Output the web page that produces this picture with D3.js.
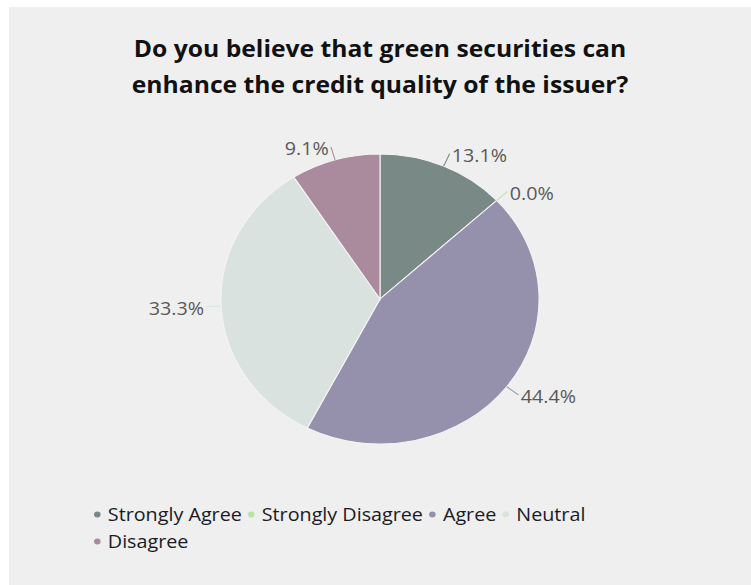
<!DOCTYPE html>
<html>
<head>
<meta charset="utf-8">
<script src="https://cdn.jsdelivr.net/npm/d3@7"></script>
<style>
  html, body { margin: 0; padding: 0; background: #ffffff; }
  svg { display: block; }
</style>
</head>
<body>
<div id="chart"></div>
<script>
// Survey answers, in drawing order (clockwise from 12 o'clock)
const categories = ["Strongly Agree", "Strongly Disagree", "Agree", "Neutral", "Disagree"];
const shares = [13.1, 0.0, 44.4, 33.3, 9.1];
const colors = ["#798986", "#b9e2a3", "#9591ad", "#dae2df", "#aa8b9e"];
const titleLines = [
  "Do you believe that green securities can",
  "enhance the credit quality of the issuer?"
];

// The chart is laid out on a slightly narrower canvas and stretched to the window width
const W = 751, H = 585;
const stretch = 1.097;
const VW = W / stretch;

const svg = d3.select("#chart").append("svg")
  .attr("width", W).attr("height", H)
  .attr("viewBox", `0 0 ${VW} ${H}`)
  .attr("preserveAspectRatio", "none");

// panel
svg.append("rect")
  .attr("x", 9 / stretch).attr("y", 7)
  .attr("width", VW - 9 / stretch).attr("height", H - 7)
  .attr("fill", "#efefef");

const cx = 346.4, cy = 299, R = 145;

// title
svg.append("g").selectAll("text").data(titleLines).join("text")
  .attr("x", cx).attr("y", (d, i) => 57 + i * 36)
  .attr("text-anchor", "middle")
  .attr("font-family", "'Open Sans', sans-serif")
  .attr("font-weight", 700)
  .attr("font-size", 22.5)
  .attr("fill", "#111")
  .text(d => d);

const data = categories.map((c, i) => ({ name: c, value: shares[i], color: colors[i] }));

const pie = d3.pie().value(d => d.value).sort(null);
const arcs = pie(data);
const arc = d3.arc().innerRadius(0).outerRadius(R);

const g = svg.append("g").attr("transform", `translate(${cx},${cy})`);

g.selectAll("path.slice").data(arcs).join("path")
  .attr("class", "slice")
  .attr("d", arc)
  .attr("fill", d => d.data.color)
  .attr("stroke", "#f4f4f4")
  .attr("stroke-width", 1);

// leader lines and percentage labels
const rLine0 = R, rLine1 = R + 13.5;
const polar = (a, r) => [Math.sin(a) * r, -Math.cos(a) * r];

const lab = g.append("g");
arcs.forEach(d => {
  const a = (d.startAngle + d.endAngle) / 2;
  const p0 = polar(a, rLine0), p1 = polar(a, rLine1);
  const right = p1[0] >= 0;
  lab.append("line")
    .attr("x1", p0[0]).attr("y1", p0[1])
    .attr("x2", p1[0]).attr("y2", p1[1])
    .attr("stroke", d.data.color)
    .attr("stroke-width", 1);
  lab.append("text")
    .attr("x", p1[0] + (right ? 2 : -2))
    .attr("y", p1[1] + 2)
    .attr("dy", "0.35em")
    .attr("text-anchor", right ? "start" : "end")
    .attr("font-family", "'Open Sans', sans-serif")
    .attr("font-size", 18)
    .attr("fill", "#5a5a5a")
    .text(d3.format(".1f")(d.data.value) + "%");
});

// legend, flowing items left to right and wrapping
const legend = svg.append("g");
const legX0 = 88.7, legMax = 600, legY0 = 514.5, legStep = 27;
const dotToText = 9.6, textToDot = 8.6;
let lx = legX0, ly = legY0;
data.forEach(d => {
  const item = legend.append("g");
  const t = item.append("text")
    .attr("font-family", "'Open Sans', sans-serif")
    .attr("font-size", 18)
    .attr("fill", "#1a1a26")
    .attr("dy", "0.35em")
    .text(d.name);
  const w = t.node().getComputedTextLength();
  if (lx + dotToText + w > legMax && lx !== legX0) { lx = legX0; ly += legStep; }
  item.append("circle").attr("cx", lx).attr("cy", ly).attr("r", 3).attr("fill", d.color);
  t.attr("x", lx + dotToText).attr("y", ly);
  lx = lx + dotToText + w + textToDot;
});
</script>
</body>
</html>
